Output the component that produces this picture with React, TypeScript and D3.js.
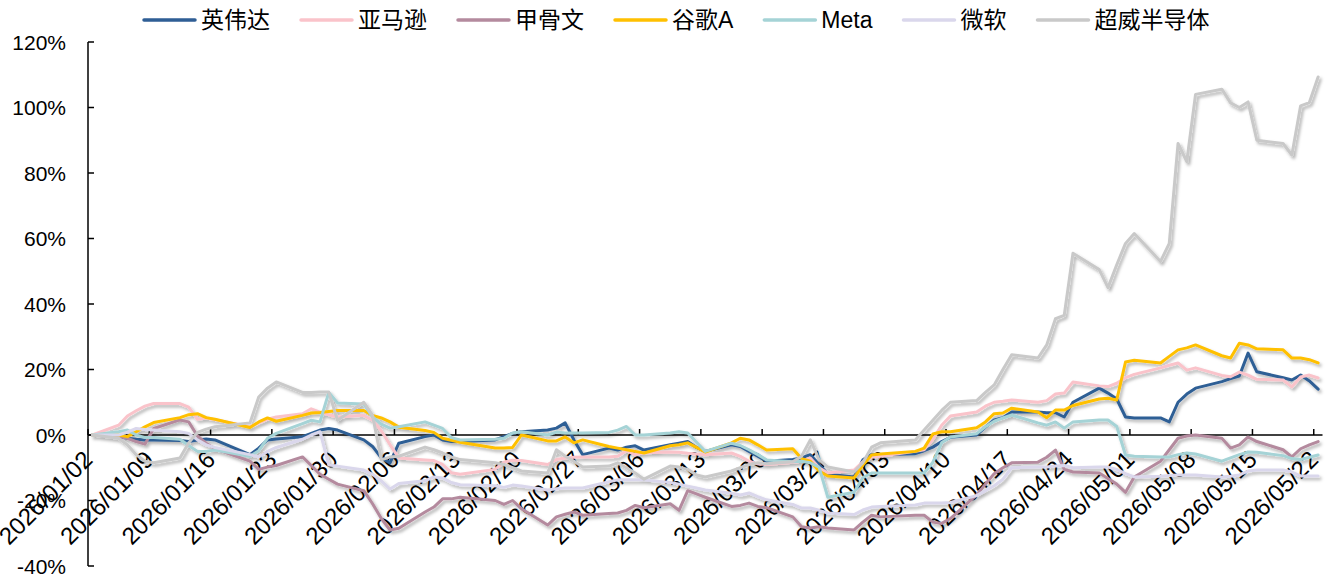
import { useEffect, useRef } from 'react';
import * as d3 from 'd3';

const W = 1334;
const H = 578;

const seriesNames = ['英伟达', '亚马逊', '甲骨文', '谷歌A', 'Meta', '微软', '超威半导体'];
const seriesColors = ['#2F5E95', '#FAC3CA', '#B48A9E', '#FFC000', '#A5D3D6', '#DAD7EC', '#C9C9C9'];

// US market holidays skipped in the daily series
const holidays = ['2026-01-19', '2026-02-16', '2026-04-03'];
const firstDay = '2026-01-02';
const lastDay = '2026-05-22';
const yTicks = [-40, -20, 0, 20, 40, 60, 80, 100, 120];

// cumulative return (%), one line per trading week
const nvda = [
  0,
  -0.5, -1, -1.3, -1.5, -1.5,
  -1.7, -2, -1.5, -1.2, -1.5,
  -6, -4, -1.5, -1.2,
  -0.5, 0.5, 1.5, 2, 1.5,
  -1.5, -3.5, -7, -8.5, -2.5,
  -0.5, 0, -1.5, -2, -2,
  -1.5, -0.5, 0.5, 1,
  1.5, 2.1, 3.7, -1.5, -6,
  -4, -4.6, -3.7, -3.3, -4.6,
  -3, -2.5, -2, -3.8, -5,
  -3, -3.5, -5, -6.5, -8,
  -7.5, -7, -6, -9, -12,
  -12.8, -7.6, -6, -6,
  -5.7, -4.8, -3.7, -2, -0.7,
  0, 2.4, 4.6, 5.3, 7,
  7, 6.8, 6.8, 5.5, 10,
  14.3, 12.8, 11, 5.5, 5.2,
  5.2, 4, 10, 12.5, 14.3,
  16.3, 17.2, 18, 25, 19.3,
  17.5, 16.8, 18.3, 16.5, 14,
];
const amzn = [
  0,
  3, 5.8, 7.4, 8.8, 9.6,
  9.6, 8.5, 4.8, 5.2, 4.7,
  2.5, 3.7, 4.8, 5.5,
  6.5, 8, 7, 6.2, 5.5,
  6, 4.5, 1.3, -3, -7,
  -7.6, -7.8, -9, -11.5, -12,
  -10.5, -8.3, -7.7, -7.8,
  -9, -7.5, -7, -6.8, -6.7,
  -6.7, -6.5, -4.8, -6, -5.4,
  -5.2, -5.3, -5.6, -5.8, -6,
  -5.5, -6.5, -8, -8.8, -9,
  -8.3, -8, -7, -10, -11.6,
  -10.7, -8.2, -6.8, -6.5,
  -5, -4.5, -1.3, 3, 5.8,
  7, 8.8, 10, 10.3, 10.7,
  10, 10.5, 12.5, 12.8, 16.2,
  15, 14.8, 15.8, 17.5, 18.5,
  20.5, 21.3, 22, 19.8, 20.5,
  18.2, 17.8, 19.2, 18.3, 17,
  16.8, 14.7, 17.7, 18.3, 17.4,
];
const orcl = [
  0,
  -0.5, -1, -2, -2.8, 2,
  4.6, 4, -0.3, -2.5, -4.2,
  -8, -10.5, -9.8, -9.3,
  -6.7, -9.3, -12, -13.5, -15,
  -17, -21, -25.5, -29, -28.5,
  -23.5, -22, -19.5, -19.5, -19,
  -20, -21.2, -20, -22.5,
  -27.5, -25, -24.2, -23.5, -24.5,
  -24, -23.8, -23, -21.5, -22.2,
  -21, -23, -17, -18, -19,
  -21.8, -21.5, -20.8, -21.8, -22.2,
  -25, -28, -28.4, -28, -28.4,
  -29, -26.6, -24.5, -25,
  -24.5, -24.5, -26.6, -27, -25.5,
  -18.3, -15, -11.8, -10, -8.5,
  -8.3, -6.8, -4.6, -10.5, -11.3,
  -11.6, -13.3, -15, -17.5, -12.8,
  -8, -4.5, -1, -0.3, 0,
  -1, -4, -3, -0.6, -2,
  -4.5, -6.7, -4.2, -3, -2,
];
const googl = [
  0,
  0, -0.5, 1, 2.5, 3.8,
  5.3, 6.2, 6.5, 5.3, 4.8,
  2.3, 4, 5.2, 4.2,
  6, 6.7, 6.9, 7.2, 7.5,
  7.5, 6, 5.2, 4, 2.4,
  1.4, 0.8, -1, -1.6, -2.2,
  -4, -4, -3.8, 0,
  -1.8, -1.8, -0.6, -2.4, -1.5,
  -3.5, -4, -4.5, -5, -5.5,
  -3.3, -3, -2.4, -3.8, -5.2,
  -2.4, -1, -1.5, -3, -4.6,
  -4.2, -7.2, -8, -11, -12.5,
  -13.1, -9.2, -6.1, -5.8,
  -5, -4, 0.3, 1, 1,
  2.2, 4, 6.5, 6.7, 8.2,
  7, 5.3, 7.6, 7.6, 9,
  11, 11.2, 10.7, 22.3, 22.8,
  22, 24, 26, 26.6, 27.5,
  24.2, 23.5, 28, 27.5, 26.3,
  26, 23.5, 23.5, 23, 22,
];
const meta = [
  0,
  1, 1.5, 0, -0.8, -0.8,
  -1.3, -3.2, -5, -5, -4.6,
  -6.5, -4.8, -1, 0.5,
  3.5, 4.5, 4, 13, 9.8,
  9.5, 5.5, 3.3, 2.1, 2.5,
  4, 3, 2, -0.8, -1.5,
  -1.3, -1, 0.6, 1,
  0, 0.9, 0.6, 0.6, 0.6,
  0.8, 1.5, 2.6, 0, 0,
  0.6, 1, 0.6, -2.2, -5,
  -2.5, -3.2, -4.5, -6, -7.6,
  -8.2, -8, -8.5, -9.8, -19,
  -17.5, -13, -11.6, -11.6,
  -11.6, -11.6, -8.3, -2.4, -0.6,
  0.4, 2.5, 4.2, 5.2, 6.1,
  3.7, 3, 4, 2.1, 4,
  4.6, 4.6, 2.6, -6.1, -6.5,
  -6.7, -6.7, -6, -5.5, -5.8,
  -8, -7, -6, -5.2, -5.3,
  -6.3, -7.2, -7.5, -6.8, -6.1,
];
const msft = [
  0,
  0, 0.9, 2, 1.7, 1.5,
  1, 0.5, -1.5, -3, -3.8,
  -6, -6.7, -5, -3.8,
  -1.3, 0, 1, -9.2, -9.5,
  -10.7, -12, -14, -16.5, -14.8,
  -14, -12.8, -13.1, -14.5, -15.2,
  -15.5, -16, -15.3, -15.6,
  -16.8, -16.4, -16.2, -16.2, -16.2,
  -14.3, -13.7, -13.7, -13.7, -13.7,
  -14.5, -15, -15.6, -16.2, -16.8,
  -17.8, -18.3, -17.7, -18.8, -19.8,
  -21.2, -22.3, -22.3, -23, -23.8,
  -24.3, -22.9, -22, -21.8,
  -21.4, -20.8, -20.8, -20.8, -20.6,
  -18.5, -17, -15.5, -13.5, -10,
  -9.8, -9.8, -9.5, -9.3, -10,
  -9.8, -9.8, -10.5, -11.8, -12.8,
  -12.6, -12.4, -12.2, -12.2, -12.2,
  -12.8, -12.6, -12.2, -11, -10.7,
  -10.7, -11.3, -12.5, -12.5, -12.5,
];
const amd = [
  0,
  -1, -3, -6, -8, -8.5,
  -7, -2.4, 0.8, 1.8, 2.5,
  3.7, 11.6, 14.3, 16.2,
  13, 13, 13.1, 13.1, 4.5,
  10, 6, -7.6, -6.7, -6.5,
  -3.7, -4.5, -5.5, -6.7, -7.5,
  -8.5, -9, -10, -11,
  -11.6, -4.5, -6.5, -8, -9.8,
  -9.5, -8.5, -10, -11.6, -13.5,
  -9.5, -9.8, -10.5, -12.2, -12.8,
  -11, -10, -9, -8.5, -8.8,
  -8.2, -6.5, -1.5, -7.5, -9.8,
  -11.3, -8.5, -3.7, -2.4,
  -1.5, 1.5, 4.5, 7.5, 10,
  10.5, 13, 15.3, 20, 24.5,
  23.5, 27.5, 35.5, 36.5, 55.5,
  50.5, 45, 52, 58.5, 61.5,
  53, 58.5, 89, 83.5, 104,
  105.6, 101.4, 100, 101.7, 90,
  89, 85.5, 100.5, 101.5, 109.3,
];
const seriesValues = [nvda, amzn, orcl, googl, meta, msft, amd];

export default function App() {
  const ref = useRef<SVGSVGElement>(null);

  useEffect(() => {
    const parse = d3.timeParse('%Y-%m-%d');
    const fmtKey = d3.timeFormat('%Y-%m-%d');
    const start = parse(firstDay)!;
    const end = d3.timeDay.offset(parse(lastDay)!, 1);
    const skip = new Set(holidays);
    const days = d3.timeDay
      .range(start, end)
      .filter((d) => d.getDay() !== 0 && d.getDay() !== 6 && !skip.has(fmtKey(d)));

    const left = 88;
    const right = 1322.5;
    const top = 42;
    const bottom = 566;

    const svg = d3.select(ref.current);
    svg.selectAll('*').remove();

    const x = d3.scaleTime().domain([start, end]).range([left, right]);
    const y = d3.scaleLinear().domain([-40, 120]).range([bottom, top]);
    // points sit in the middle of their day slot
    const px = (d: Date) => x(d3.timeHour.offset(d, 12));

    svg
      .append('defs')
      .append('filter')
      .attr('id', 'shadow')
      .attr('filterUnits', 'userSpaceOnUse')
      .attr('x', 0)
      .attr('y', 0)
      .attr('width', W)
      .attr('height', H)
      .append('feDropShadow')
      .attr('dx', 2)
      .attr('dy', 2.5)
      .attr('stdDeviation', 1.6)
      .attr('flood-color', '#000')
      .attr('flood-opacity', 0.3);

    // Y axis
    const yAxis = svg.append('g');
    yAxis
      .append('line')
      .attr('x1', left)
      .attr('x2', left)
      .attr('y1', top)
      .attr('y2', bottom)
      .attr('stroke', '#000')
      .attr('stroke-width', 1.5);
    yTicks.forEach((t) => {
      yAxis
        .append('line')
        .attr('x1', left)
        .attr('x2', left + 6)
        .attr('y1', y(t))
        .attr('y2', y(t))
        .attr('stroke', '#000')
        .attr('stroke-width', 1.5);
      yAxis
        .append('text')
        .attr('x', 66)
        .attr('y', y(t))
        .attr('dy', '0.36em')
        .attr('text-anchor', 'end')
        .attr('font-size', 21)
        .attr('fill', '#000')
        .text(`${t}%`);
    });

    // X axis on the zero line
    const xAxis = svg.append('g');
    xAxis
      .append('line')
      .attr('x1', left)
      .attr('x2', right)
      .attr('y1', y(0))
      .attr('y2', y(0))
      .attr('stroke', '#000')
      .attr('stroke-width', 1.5);
    const fridays = d3.timeFriday.range(start, end);
    const fmt = d3.timeFormat('%Y/%m/%d');
    fridays.forEach((d) => {
      const tx = x(d);
      xAxis
        .append('line')
        .attr('x1', tx)
        .attr('x2', tx)
        .attr('y1', y(0))
        .attr('y2', y(0) - 6)
        .attr('stroke', '#000')
        .attr('stroke-width', 1.5);
      xAxis
        .append('text')
        .attr('transform', `translate(${tx + 6},${y(0) + 26}) rotate(-45)`)
        .attr('text-anchor', 'end')
        .attr('font-size', 24)
        .attr('fill', '#000')
        .text(fmt(d));
    });

    // series
    const line = d3
      .line<number>()
      .x((_, i) => px(days[i]))
      .y((v) => y(v));

    const lines = svg.append('g').attr('filter', 'url(#shadow)');
    seriesValues.forEach((vals, k) => {
      lines
        .append('path')
        .attr('d', line(vals))
        .attr('fill', 'none')
        .attr('stroke', seriesColors[k])
        .attr('stroke-width', 3)
        .attr('stroke-linejoin', 'round')
        .attr('stroke-linecap', 'round');
    });

    // legend
    const legend = svg.append('g');
    let lx = 144;
    seriesNames.forEach((name, k) => {
      legend
        .append('line')
        .attr('x1', lx)
        .attr('x2', lx + 51)
        .attr('y1', 20)
        .attr('y2', 20)
        .attr('stroke', seriesColors[k])
        .attr('stroke-width', 3.5)
        .attr('stroke-linecap', 'round');
      const t = legend
        .append('text')
        .attr('x', lx + 57)
        .attr('y', 20)
        .attr('dy', '0.36em')
        .attr('font-size', 23)
        .attr('fill', '#000')
        .text(name);
      const tw = (t.node() as SVGTextElement).getComputedTextLength();
      lx += 57 + tw + 31;
    });
  }, []);

  return (
    <svg
      ref={ref}
      width={W}
      height={H}
      style={{
        position: 'absolute',
        left: 0,
        top: 0,
        background: '#fff',
        fontFamily: '"Liberation Sans", Arial, "Noto Sans CJK SC", sans-serif',
      }}
    />
  );
}
